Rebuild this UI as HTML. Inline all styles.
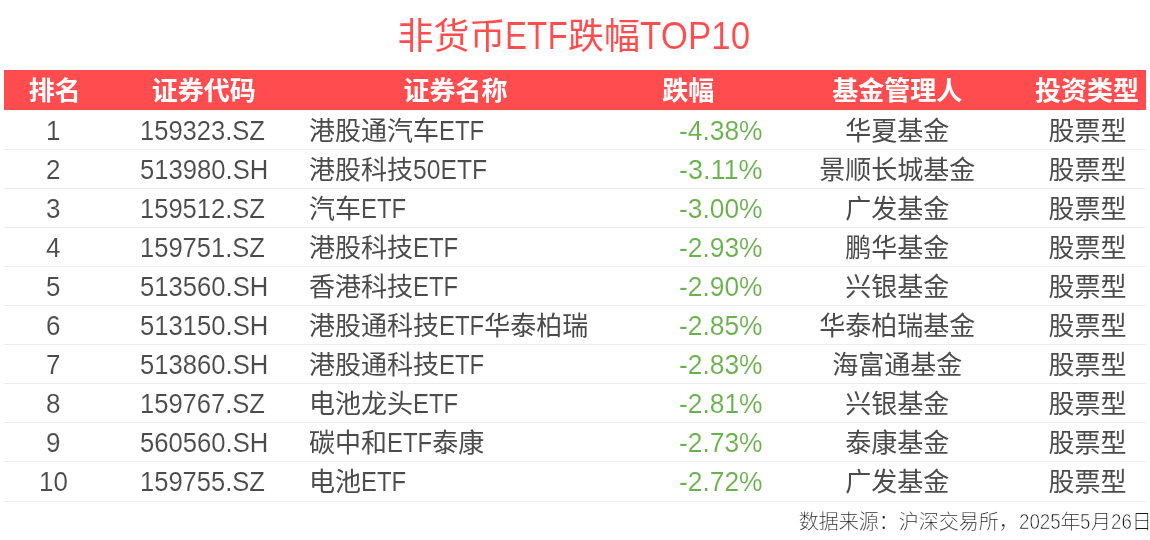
<!DOCTYPE html>
<html lang="zh-CN">
<head>
<meta charset="utf-8">
<title>非货币ETF跌幅TOP10</title>
<style>
html,body{margin:0;padding:0;background:#fff;}
body{width:1150px;height:540px;overflow:hidden;font-family:"Liberation Sans","Noto Sans CJK SC",sans-serif;}
h1,p,table,thead,tbody,tr,th,td{display:block;margin:0;padding:0;border:0;font:inherit;}
.page{position:relative;width:1150px;height:540px;overflow:hidden;background:#fff;}
.l{display:inline-block;font-size:1.0654em;line-height:1;white-space:nowrap;text-align:left;transform-origin:0 50%;}
.title{position:absolute;left:0;width:1147.5px;top:9px;height:56px;line-height:56px;text-align:center;font-size:36px;color:#ff4d4f;white-space:nowrap;}
.thead{position:absolute;left:4px;top:70px;width:1142px;height:40px;background:#ff4d4f;color:#fff;font-size:26px;line-height:42px;}
.thead th{font-weight:bold;}
.row{position:absolute;left:4px;width:1142px;height:38px;border-bottom:1px solid #ebebf5;color:#4b4b4b;font-size:26px;line-height:40px;}
.c{position:absolute;top:0;height:100%;white-space:nowrap;}
.thead .c1{left:0;width:101.5px;text-align:center;}
.row .c1{left:0;width:99px;text-align:center;}
.thead .c2{left:99.7px;width:200px;text-align:center;}
.row .c2{left:136.1px;text-align:left;}
.thead .c3{left:301.6px;width:300px;text-align:center;}
.row .c3{left:305px;text-align:left;}
.thead .c4{left:584.35px;width:200px;text-align:center;}
.row .c4{right:383.6px;text-align:right;color:#6ab04c;}
.thead .c5{left:743.3px;width:300px;text-align:center;}
.row .c5{left:743.3px;width:300px;text-align:center;}
.thead .c6{left:983px;width:200px;text-align:center;}
.row .c6{left:983.6px;width:200px;text-align:center;}
.r1{top:111px}.r2{top:150px}.r3{top:189px}.r4{top:228px}.r5{top:267px}.r6{top:306px}.r7{top:345px}.r8{top:384px}.r9{top:423px}.r10{top:462px;height:39px}
.foot{position:absolute;left:798.8px;top:507px;height:30px;line-height:30px;font-size:20px;font-weight:300;color:#1a1a1a;-webkit-text-stroke:0.17px #fff;white-space:nowrap;}
.foot .l{-webkit-text-stroke:0.6px #fff;}
.row .l{-webkit-text-stroke:0.13px #fff;}
.title .l{-webkit-text-stroke:0.17px #fff;}

</style>
</head>
<body>
<div class="page">
<h1 class="title">非货币<span class="l" style="width:62.64px;transform:scaleX(0.8649)">ETF</span>跌幅<span class="l" style="width:110.06px;transform:scaleX(0.9113)">TOP10</span></h1>
<table>
<thead>
<tr class="thead">
  <th class="c c1">排名</th>
  <th class="c c2">证券代码</th>
  <th class="c c3">证券名称</th>
  <th class="c c4">跌幅</th>
  <th class="c c5">基金管理人</th>
  <th class="c c6">投资类型</th>
</tr>
</thead>
<tbody>
<tr class="row r1">
  <td class="c c1"><span class="l" style="width:14.44px;transform:scaleX(0.9371)">1</span></td>
  <td class="c c2"><span class="l" style="width:124.98px;transform:scaleX(0.9226)">159323.SZ</span></td>
  <td class="c c3">港股通汽车<span class="l" style="width:45.25px;transform:scaleX(0.8653)">ETF</span></td>
  <td class="c c4"><span class="l" style="width:83.50px;transform:scaleX(0.9517)">-4.38%</span></td>
  <td class="c c5">华夏基金</td>
  <td class="c c6">股票型</td>
</tr>
<tr class="row r2">
  <td class="c c1"><span class="l" style="width:14.44px;transform:scaleX(0.9371)">2</span></td>
  <td class="c c2"><span class="l" style="width:128.23px;transform:scaleX(0.9256)">513980.SH</span></td>
  <td class="c c3">港股科技<span class="l" style="width:74.11px;transform:scaleX(0.8919)">50ETF</span></td>
  <td class="c c4"><span class="l" style="width:83.50px;transform:scaleX(0.9746)">-3.11%</span></td>
  <td class="c c5">景顺长城基金</td>
  <td class="c c6">股票型</td>
</tr>
<tr class="row r3">
  <td class="c c1"><span class="l" style="width:14.44px;transform:scaleX(0.9371)">3</span></td>
  <td class="c c2"><span class="l" style="width:124.98px;transform:scaleX(0.9226)">159512.SZ</span></td>
  <td class="c c3">汽车<span class="l" style="width:45.25px;transform:scaleX(0.8653)">ETF</span></td>
  <td class="c c4"><span class="l" style="width:83.50px;transform:scaleX(0.9517)">-3.00%</span></td>
  <td class="c c5">广发基金</td>
  <td class="c c6">股票型</td>
</tr>
<tr class="row r4">
  <td class="c c1"><span class="l" style="width:14.44px;transform:scaleX(0.9371)">4</span></td>
  <td class="c c2"><span class="l" style="width:124.98px;transform:scaleX(0.9226)">159751.SZ</span></td>
  <td class="c c3">港股科技<span class="l" style="width:45.25px;transform:scaleX(0.8653)">ETF</span></td>
  <td class="c c4"><span class="l" style="width:83.50px;transform:scaleX(0.9517)">-2.93%</span></td>
  <td class="c c5">鹏华基金</td>
  <td class="c c6">股票型</td>
</tr>
<tr class="row r5">
  <td class="c c1"><span class="l" style="width:14.44px;transform:scaleX(0.9371)">5</span></td>
  <td class="c c2"><span class="l" style="width:128.23px;transform:scaleX(0.9256)">513560.SH</span></td>
  <td class="c c3">香港科技<span class="l" style="width:45.25px;transform:scaleX(0.8653)">ETF</span></td>
  <td class="c c4"><span class="l" style="width:83.50px;transform:scaleX(0.9517)">-2.90%</span></td>
  <td class="c c5">兴银基金</td>
  <td class="c c6">股票型</td>
</tr>
<tr class="row r6">
  <td class="c c1"><span class="l" style="width:14.44px;transform:scaleX(0.9371)">6</span></td>
  <td class="c c2"><span class="l" style="width:128.23px;transform:scaleX(0.9256)">513150.SH</span></td>
  <td class="c c3">港股通科技<span class="l" style="width:45.25px;transform:scaleX(0.8653)">ETF</span>华泰柏瑞</td>
  <td class="c c4"><span class="l" style="width:83.50px;transform:scaleX(0.9517)">-2.85%</span></td>
  <td class="c c5">华泰柏瑞基金</td>
  <td class="c c6">股票型</td>
</tr>
<tr class="row r7">
  <td class="c c1"><span class="l" style="width:14.44px;transform:scaleX(0.9371)">7</span></td>
  <td class="c c2"><span class="l" style="width:128.23px;transform:scaleX(0.9256)">513860.SH</span></td>
  <td class="c c3">港股通科技<span class="l" style="width:45.25px;transform:scaleX(0.8653)">ETF</span></td>
  <td class="c c4"><span class="l" style="width:83.50px;transform:scaleX(0.9517)">-2.83%</span></td>
  <td class="c c5">海富通基金</td>
  <td class="c c6">股票型</td>
</tr>
<tr class="row r8">
  <td class="c c1"><span class="l" style="width:14.44px;transform:scaleX(0.9371)">8</span></td>
  <td class="c c2"><span class="l" style="width:124.98px;transform:scaleX(0.9226)">159767.SZ</span></td>
  <td class="c c3">电池龙头<span class="l" style="width:45.25px;transform:scaleX(0.8653)">ETF</span></td>
  <td class="c c4"><span class="l" style="width:83.50px;transform:scaleX(0.9517)">-2.81%</span></td>
  <td class="c c5">兴银基金</td>
  <td class="c c6">股票型</td>
</tr>
<tr class="row r9">
  <td class="c c1"><span class="l" style="width:14.44px;transform:scaleX(0.9371)">9</span></td>
  <td class="c c2"><span class="l" style="width:128.23px;transform:scaleX(0.9256)">560560.SH</span></td>
  <td class="c c3">碳中和<span class="l" style="width:45.25px;transform:scaleX(0.8653)">ETF</span>泰康</td>
  <td class="c c4"><span class="l" style="width:83.50px;transform:scaleX(0.9517)">-2.73%</span></td>
  <td class="c c5">泰康基金</td>
  <td class="c c6">股票型</td>
</tr>
<tr class="row r10">
  <td class="c c1"><span class="l" style="width:28.88px;transform:scaleX(0.9371)">10</span></td>
  <td class="c c2"><span class="l" style="width:124.98px;transform:scaleX(0.9226)">159755.SZ</span></td>
  <td class="c c3">电池<span class="l" style="width:45.25px;transform:scaleX(0.8653)">ETF</span></td>
  <td class="c c4"><span class="l" style="width:83.50px;transform:scaleX(0.9517)">-2.72%</span></td>
  <td class="c c5">广发基金</td>
  <td class="c c6">股票型</td>
</tr>
</tbody>
</table>
<p class="foot">数据来源：沪深交易所，<span class="l" style="width:41.69px;transform:scaleX(0.8797)">2025</span>年<span class="l" style="width:10.42px;transform:scaleX(0.8788)">5</span>月<span class="l" style="width:20.84px;transform:scaleX(0.8794)">26</span>日</p>
</div>
</body>
</html>
